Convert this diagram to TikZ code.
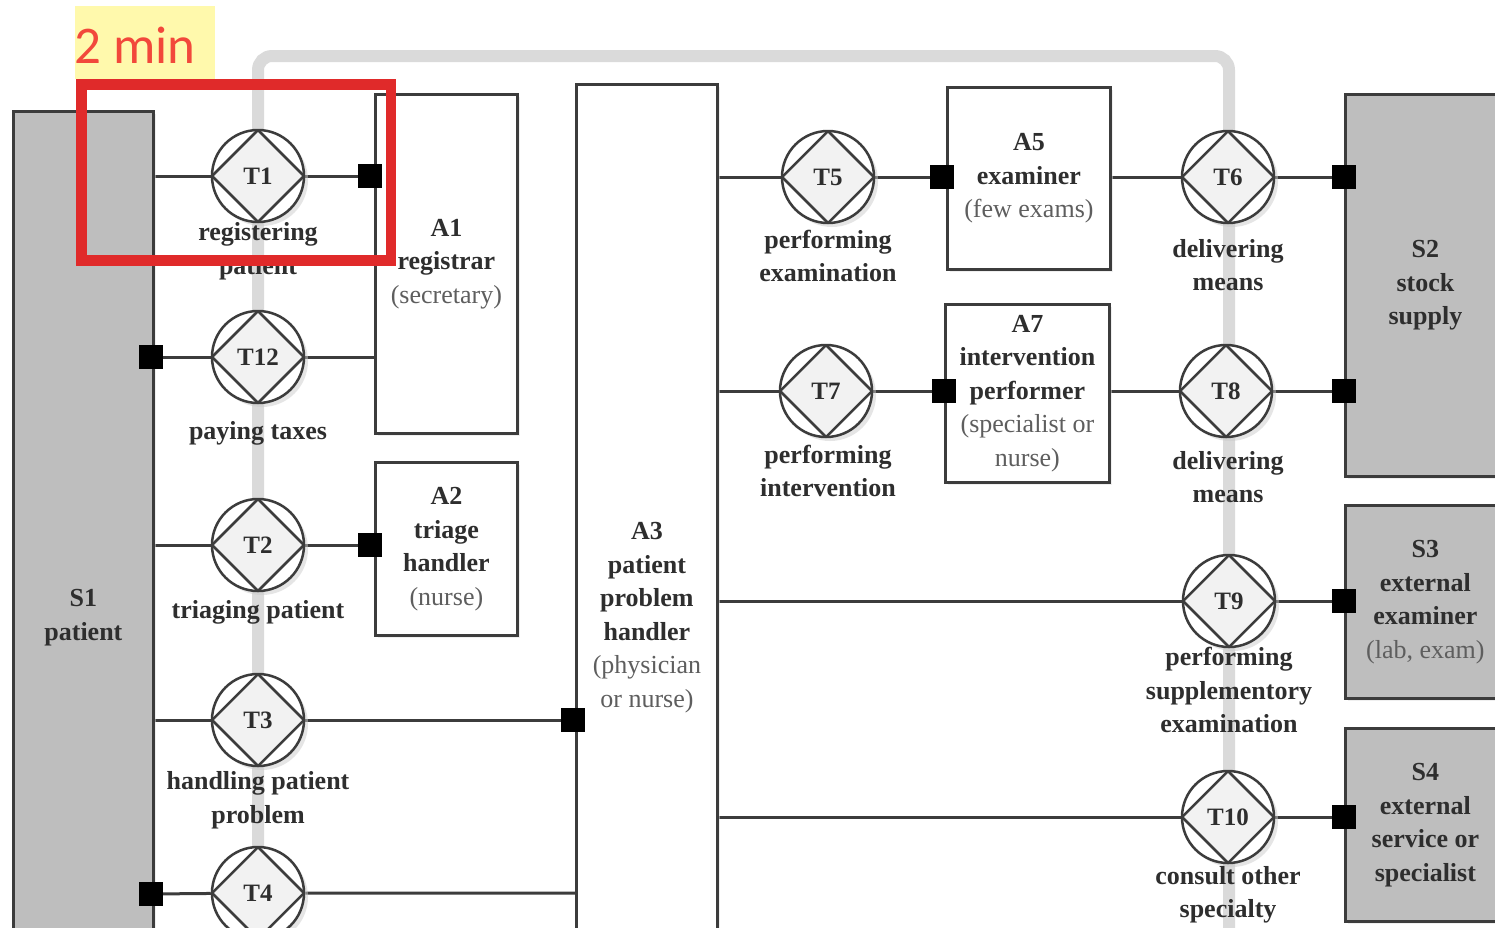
\documentclass[tikz,border=0pt]{standalone}
\usepackage{fontspec}
\setmainfont{Liberation Serif}
\newfontfamily\notefont{Carlito}
\usetikzlibrary{shadows,backgrounds}
\definecolor{sysgray}{HTML}{DADADA}
\definecolor{boxgray}{HTML}{BEBEBE}
\definecolor{linegray}{HTML}{3C3C3C}
\definecolor{txt}{HTML}{2E2E2E}
\definecolor{txtlight}{HTML}{5E5E5E}
\definecolor{hlyellow}{HTML}{FFF9AC}
\definecolor{hlred}{HTML}{E02A2A}
\definecolor{minred}{HTML}{F2483B}
\begin{document}
\begin{tikzpicture}[x=1pt,y=-1pt,
  every node/.style={font=\fontsize{26}{33.5}\selectfont\bfseries, text=txt},
  actor/.style={draw=linegray, line width=2.8pt, fill=white, align=center, inner sep=0pt, anchor=north west,
    drop shadow={shadow xshift=3pt, shadow yshift=-3pt, fill=black!12}},
  ext/.style={actor, fill=boxgray},
  trans/.style={circle, draw=linegray, line width=2.5pt, fill=white, minimum size=92pt, inner sep=0pt,
    font=\fontsize{25}{30}\selectfont\bfseries,
    drop shadow={shadow xshift=4pt, shadow yshift=-4pt, fill=black!20},
    path picture={\draw[linegray, line width=2.5pt, fill=black!5]
      (path picture bounding box.north) -- (path picture bounding box.east) --
      (path picture bounding box.south) -- (path picture bounding box.west) -- cycle;}},
  tlabel/.style={align=center, inner sep=0pt},
  conn/.style={draw=linegray, line width=3pt},
  sq/.style={fill=black, minimum size=24pt, inner sep=0pt}
]
\useasboundingbox (0,0) rectangle (1495,927);
\clip (0,0) rectangle (1495,927);

% actor and composite boxes
\node[ext, minimum width=140pt, minimum height=1012pt] (S1) at (12,110) {S1\\patient};
\node[actor, minimum width=142pt, minimum height=339pt] (A1) at (374,93) {A1\\registrar\\{\mdseries\color{txtlight}(secretary)}};
\node[actor, minimum width=142pt, minimum height=173pt] (A2) at (374,461) {A2\\triage\\handler\\{\mdseries\color{txtlight}(nurse)}};
\node[actor, minimum width=141pt, minimum height=1066pt] (A3) at (575,83) {A3\\patient\\problem\\handler\\{\mdseries\color{txtlight}(physician}\\{\mdseries\color{txtlight}or nurse)}};
\node[actor, minimum width=163pt, minimum height=182pt] (A5) at (946,86) {A5\\examiner\\{\mdseries\color{txtlight}(few exams)}};
\node[actor, minimum width=164pt, minimum height=178pt] (A7) at (944,303) {A7\\intervention\\performer\\{\mdseries\color{txtlight}(specialist or}\\{\mdseries\color{txtlight}nurse)}};
\node[ext, minimum width=160pt, minimum height=382pt] (S2) at (1344,93) {S2\\stock\\supply};
\node[ext, minimum width=160pt, minimum height=193pt] (S3) at (1344,504) {S3\\external\\examiner\\{\mdseries\color{txtlight}(lab, exam)}};
\node[ext, minimum width=160pt, minimum height=193pt] (S4) at (1344,727) {S4\\external\\service or\\specialist};

% transactions
\node[trans] (T1) at (258,176) {T1};
\node[trans] (T12) at (258,357) {T12};
\node[trans] (T2) at (258,545) {T2};
\node[trans] (T3) at (258,720) {T3};
\node[trans] (T4) at (258,893) {T4};
\node[trans] (T5) at (828,177) {T5};
\node[trans] (T7) at (826,391) {T7};
\node[trans] (T6) at (1228,177) {T6};
\node[trans] (T8) at (1226,391) {T8};
\node[trans] (T9) at (1229,601) {T9};
\node[trans] (T10) at (1228,817) {T10};

% transaction labels
\node[tlabel] (L1) at (258,251) {registering\\patient};
\node[tlabel] (L12) at (258,433) {paying taxes};
\node[tlabel] (L2) at (258,612) {triaging patient};
\node[tlabel] (L3) at (258,800) {handling patient\\problem};
\node[tlabel] (L5) at (828,256) {performing\\examination};
\node[tlabel] (L7) at (828,471) {performing\\intervention};
\node[tlabel] (L6) at (1228,265) {delivering\\means};
\node[tlabel] (L8) at (1228,477) {delivering\\means};
\node[tlabel] (L9) at (1229,690) {performing\\supplementory\\examination};
\node[tlabel] (L10) at (1228,895) {consult other\\specialty};

% executor markers
\node[sq] (q1) at (370,176) {};
\node[sq] (q12) at (151,357) {};
\node[sq] (q2) at (370,545) {};
\node[sq] (q3) at (573,720) {};
\node[sq] (q4) at (151,894) {};
\node[sq] (q5) at (942,177) {};
\node[sq] (q7) at (944,391) {};
\node[sq] (q6) at (1344,177) {};
\node[sq] (q8) at (1344,391) {};
\node[sq] (q9) at (1344,601) {};
\node[sq] (q10) at (1344,817) {};

\begin{scope}[on background layer]
  \fill[white] (0,0) rectangle (1495,927);
  \draw[sysgray, line width=12pt, rounded corners=14pt] (258,940) -- (258,56) -- (1229,56) -- (1229,940);
  \draw[conn] (S1.east |- T1) -- (T1) -- (q1);
  \draw[conn] (q12) -- (T12) -- (A1.west |- T12);
  \draw[conn] (S1.east |- T2) -- (T2) -- (q2);
  \draw[conn] (S1.east |- T3) -- (T3) -- (q3);
  \draw[conn] (q4) -- (T4) -- (A3.west |- T4);
  \draw[conn] (A3.east |- T5) -- (T5) -- (q5);
  \draw[conn] (A3.east |- T7) -- (T7) -- (q7);
  \draw[conn] (A5.east |- T6) -- (T6) -- (q6);
  \draw[conn] (A7.east |- T8) -- (T8) -- (q8);
  \draw[conn] (A3.east |- T9) -- (T9) -- (q9);
  \draw[conn] (A3.east |- T10) -- (T10) -- (q10);
\end{scope}

% annotation
\fill[hlyellow] (75,6) rectangle (215,79);
\node[anchor=base west, inner sep=0pt, font=\notefont\fontsize{53}{60}\selectfont, text=minred] (note) at (74,63) {2 min};
\draw[hlred, line width=10.5pt] (81.5,84.5) rectangle (391,260.5);
\end{tikzpicture}
\end{document}
